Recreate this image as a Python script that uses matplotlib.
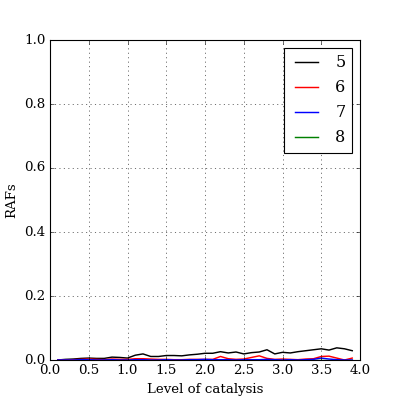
import numpy as np
import matplotlib
matplotlib.use('Agg')
import matplotlib.pyplot as plt

plt.style.use('classic')
plt.rcParams['font.family'] = 'serif'
plt.rcParams['font.serif'] = ['DejaVu Serif']

catalysis = np.round(np.arange(0.1, 4.0, 0.1), 1)

raf_5 = [0.0, 0.002, 0.003, 0.005, 0.006, 0.005, 0.005, 0.009, 0.008, 0.006,
         0.015, 0.019, 0.011, 0.011, 0.014, 0.014, 0.013, 0.016, 0.018, 0.021,
         0.021, 0.026, 0.022, 0.025, 0.019, 0.023, 0.025, 0.032, 0.019, 0.024,
         0.022, 0.026, 0.029, 0.032, 0.035, 0.031, 0.038, 0.035, 0.029]
raf_6 = [0.0, 0.0, 0.001, 0.002, 0.003, 0.002, 0.001, 0.003, 0.002, 0.002,
         0.004, 0.004, 0.003, 0.002, 0.002, 0.001, 0.001, 0.002, 0.002, 0.002,
         0.002, 0.011, 0.004, 0.002, 0.003, 0.008, 0.013, 0.005, 0.002, 0.003,
         0.002, 0.001, 0.003, 0.004, 0.011, 0.012, 0.006, 0.0, 0.006]
raf_7 = [0.0, 0.0, 0.0, 0.001, 0.001, 0.0, 0.0, 0.001, 0.0, 0.0,
         0.001, 0.001, 0.0, 0.0, 0.001, 0.0, 0.0, 0.001, 0.001, 0.002,
         0.001, 0.001, 0.001, 0.0, 0.001, 0.001, 0.001, 0.002, 0.001, 0.0,
         0.001, 0.0, 0.001, 0.002, 0.006, 0.003, 0.001, 0.0, 0.0]
raf_8 = [0.0] * len(catalysis)

fig = plt.figure(figsize=(5, 5), dpi=80)
ax = fig.add_subplot(111)
ax.plot(catalysis, raf_5, color='k', lw=1.3, label='5')
ax.plot(catalysis, raf_6, color='r', lw=1.3, label='6')
ax.plot(catalysis, raf_7, color='b', lw=1.3, label='7')
ax.plot(catalysis, raf_8, color='g', lw=1.3, label='8', zorder=1.5)

ax.set_xlim(0, 4)
ax.set_ylim(0, 1)
ax.set_xlabel('Level of catalysis')
ax.set_ylabel('RAFs')
ax.grid(True)
ax.legend(loc='upper right')

fig.savefig('out.png', dpi=80)
